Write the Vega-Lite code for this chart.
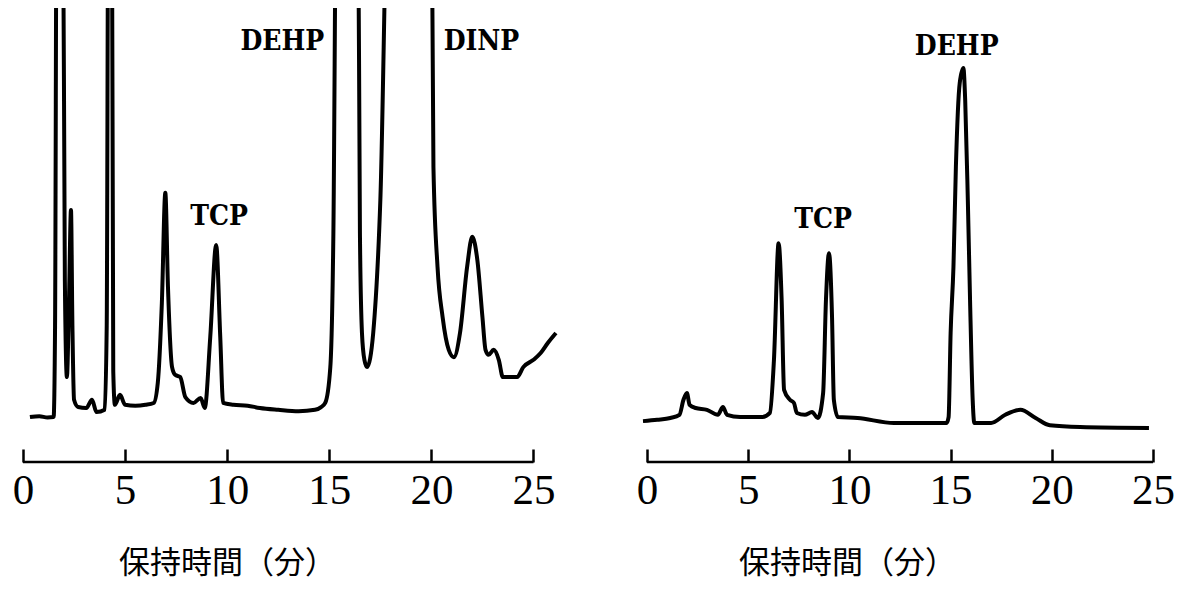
{
  "$schema": "https://vega.github.io/schema/vega-lite/v6.json",
  "background": "white",
  "padding": {"left": 12, "top": 8, "right": 5, "bottom": 30},
  "bounds": "flush",
  "spacing": 84,
  "config": {
    "view": {"stroke": null},
    "axis": {
      "domain": false,
      "grid": false,
      "ticks": true,
      "tickColor": "black",
      "tickWidth": 2.5,
      "tickSize": -13,
      "labelFont": "Liberation Serif",
      "labelFontSize": 43,
      "labelColor": "black",
      "labelPadding": 20,
      "labelFlush": false,
      "labelOverlap": false,
      "titleFont": "Noto Sans CJK JP",
      "titleFontSize": 31,
      "titleFontWeight": "normal",
      "titleColor": "black",
      "titleAlign": "center",
      "titleBaseline": "middle",
      "titleY": 101
    }
  },
  "datasets": {
    "left": [
      {"t": 0.34, "v": 9.9}, {"t": 0.8, "v": 10.1}, {"t": 1.2, "v": 9.8}, {"t": 1.5, "v": 9.9},
      {"t": 1.57, "v": 30}, {"t": 1.65, "v": 130}, {"t": 1.95, "v": 130}, {"t": 2.05, "v": 40},
      {"t": 2.15, "v": 18.7}, {"t": 2.25, "v": 35}, {"t": 2.35, "v": 55.5}, {"t": 2.42, "v": 30},
      {"t": 2.5, "v": 13.7}, {"t": 2.7, "v": 12.1}, {"t": 3.1, "v": 11.9}, {"t": 3.38, "v": 13.7},
      {"t": 3.6, "v": 11.0}, {"t": 4.0, "v": 11.5}, {"t": 4.1, "v": 30}, {"t": 4.18, "v": 130},
      {"t": 4.35, "v": 130}, {"t": 4.42, "v": 20}, {"t": 4.5, "v": 12.6}, {"t": 4.75, "v": 14.8},
      {"t": 5.0, "v": 12.6}, {"t": 5.5, "v": 12.4}, {"t": 6.0, "v": 12.6}, {"t": 6.4, "v": 13.0},
      {"t": 6.6, "v": 17.4}, {"t": 6.8, "v": 35.0}, {"t": 6.97, "v": 59.3}, {"t": 7.1, "v": 38.5},
      {"t": 7.3, "v": 20.9}, {"t": 7.45, "v": 19.2}, {"t": 7.7, "v": 18.7}, {"t": 7.95, "v": 14.3},
      {"t": 8.35, "v": 13.0}, {"t": 8.7, "v": 14.1}, {"t": 8.9, "v": 11.9}, {"t": 9.17, "v": 27.5},
      {"t": 9.46, "v": 47.8}, {"t": 9.66, "v": 27.5}, {"t": 9.8, "v": 13.0}, {"t": 10.3, "v": 12.6},
      {"t": 11.0, "v": 12.4}, {"t": 11.6, "v": 11.9}, {"t": 12.5, "v": 11.5}, {"t": 13.5, "v": 11.2},
      {"t": 14.3, "v": 11.5}, {"t": 14.6, "v": 12.1}, {"t": 14.8, "v": 13.0}, {"t": 15.05, "v": 20.9},
      {"t": 15.2, "v": 50.4}, {"t": 15.35, "v": 130}, {"t": 16.4, "v": 130}, {"t": 16.5, "v": 50.4},
      {"t": 16.6, "v": 28.4}, {"t": 16.72, "v": 22.5}, {"t": 16.85, "v": 20.9}, {"t": 17.0, "v": 22.8},
      {"t": 17.15, "v": 28.4}, {"t": 17.5, "v": 57.7},
      {"t": 17.9, "v": 130}, {"t": 20.0, "v": 130}, {"t": 20.1, "v": 65.0}, {"t": 20.3, "v": 43.0},
      {"t": 20.55, "v": 31.9}, {"t": 20.85, "v": 24.7}, {"t": 21.1, "v": 23.1}, {"t": 21.4, "v": 28.4},
      {"t": 21.75, "v": 43.0}, {"t": 22.0, "v": 49.6}, {"t": 22.25, "v": 44.5}, {"t": 22.5, "v": 31.9},
      {"t": 22.65, "v": 24.7}, {"t": 22.8, "v": 23.6}, {"t": 23.05, "v": 24.7}, {"t": 23.3, "v": 22.5},
      {"t": 23.5, "v": 18.7}, {"t": 24.2, "v": 18.7}, {"t": 24.5, "v": 20.9}, {"t": 25.0, "v": 22.5},
      {"t": 25.35, "v": 24.0}, {"t": 25.7, "v": 26.2}, {"t": 26.1, "v": 28.4}
    ],
    "right": [
      {"t": -0.2, "v": 9.0}, {"t": 0.5, "v": 9.3}, {"t": 1.15, "v": 9.7}, {"t": 1.6, "v": 10.4},
      {"t": 1.8, "v": 13.7}, {"t": 1.97, "v": 15.2}, {"t": 2.1, "v": 12.6}, {"t": 2.4, "v": 11.9},
      {"t": 2.96, "v": 11.5}, {"t": 3.5, "v": 10.4}, {"t": 3.75, "v": 12.1}, {"t": 3.95, "v": 10.4},
      {"t": 4.6, "v": 9.9}, {"t": 5.7, "v": 9.9}, {"t": 6.07, "v": 10.8}, {"t": 6.27, "v": 22.5},
      {"t": 6.5, "v": 48.2}, {"t": 6.65, "v": 35.7}, {"t": 6.77, "v": 15.9}, {"t": 7.06, "v": 13.7},
      {"t": 7.26, "v": 13.0}, {"t": 7.4, "v": 10.8}, {"t": 7.8, "v": 10.4}, {"t": 8.15, "v": 11.0},
      {"t": 8.44, "v": 9.7}, {"t": 8.7, "v": 15.2}, {"t": 8.84, "v": 35.7}, {"t": 8.99, "v": 46.0},
      {"t": 9.14, "v": 31.9}, {"t": 9.23, "v": 13.7}, {"t": 9.43, "v": 9.9}, {"t": 10.4, "v": 9.7},
      {"t": 12.2, "v": 8.6}, {"t": 14.8, "v": 8.6}, {"t": 14.9, "v": 9.9}, {"t": 15.0, "v": 28.4},
      {"t": 15.14, "v": 43.0}, {"t": 15.26, "v": 65.0}, {"t": 15.45, "v": 83.5}, {"t": 15.63, "v": 86.8},
      {"t": 15.72, "v": 79.7}, {"t": 15.85, "v": 57.7}, {"t": 15.96, "v": 35.7}, {"t": 16.09, "v": 13.7},
      {"t": 16.17, "v": 8.6}, {"t": 17.0, "v": 8.6}, {"t": 17.7, "v": 10.4}, {"t": 18.45, "v": 11.5},
      {"t": 19.2, "v": 9.7}, {"t": 19.9, "v": 8.1}, {"t": 21.4, "v": 7.7}, {"t": 24.8, "v": 7.5}
    ],
    "axisLine": [{"a": 0, "b": 25}],
    "leftLabels": [
      {"t": 12.7, "v": 92.5, "label": "DEHP"},
      {"t": 22.45, "v": 92.5, "label": "DINP"},
      {"t": 9.6, "v": 54, "label": "TCP"}
    ],
    "rightLabels": [
      {"t": 8.7, "v": 53.3, "label": "TCP"},
      {"t": 15.3, "v": 91.4, "label": "DEHP"}
    ]
  },
  "hconcat": [
    {
      "width": 535,
      "height": 454,
      "layer": [
        {
          "data": {"name": "left"},
          "mark": {"type": "line", "color": "black", "strokeWidth": 4, "clip": true, "strokeJoin": "round", "interpolate": "monotone"},
          "encoding": {
            "x": {"field": "t", "type": "quantitative", "scale": {"domain": [0, 26.2], "nice": false, "zero": false},
                  "axis": {"values": [0, 5, 10, 15, 20, 25], "format": "d", "title": "保持時間（分）", "titleX": 204}},
            "y": {"field": "v", "type": "quantitative", "scale": {"domain": [0, 100], "nice": false}, "axis": null}
          }
        },
        {
          "data": {"name": "axisLine"},
          "mark": {"type": "rule", "color": "black", "strokeWidth": 2.5},
          "encoding": {
            "x": {"field": "a", "type": "quantitative"},
            "x2": {"field": "b"},
            "y": {"datum": 0, "type": "quantitative"}
          }
        },
        {
          "data": {"name": "leftLabels"},
          "mark": {"type": "text", "font": "DejaVu Serif Condensed, Liberation Serif", "fontWeight": "bold", "fontSize": 28, "color": "black", "align": "center", "baseline": "middle"},
          "encoding": {
            "x": {"field": "t", "type": "quantitative"},
            "y": {"field": "v", "type": "quantitative"},
            "text": {"field": "label"}
          }
        }
      ]
    },
    {
      "width": 511,
      "height": 454,
      "layer": [
        {
          "data": {"name": "right"},
          "mark": {"type": "line", "color": "black", "strokeWidth": 4, "clip": true, "strokeJoin": "round", "interpolate": "monotone"},
          "encoding": {
            "x": {"field": "t", "type": "quantitative", "scale": {"domain": [-0.25, 25], "nice": false, "zero": false},
                  "axis": {"values": [0, 5, 10, 15, 20, 25], "format": "d", "title": "保持時間（分）", "titleX": 205}},
            "y": {"field": "v", "type": "quantitative", "scale": {"domain": [0, 100], "nice": false}, "axis": null}
          }
        },
        {
          "data": {"name": "axisLine"},
          "mark": {"type": "rule", "color": "black", "strokeWidth": 2.5},
          "encoding": {
            "x": {"field": "a", "type": "quantitative"},
            "x2": {"field": "b"},
            "y": {"datum": 0, "type": "quantitative"}
          }
        },
        {
          "data": {"name": "rightLabels"},
          "mark": {"type": "text", "font": "DejaVu Serif Condensed, Liberation Serif", "fontWeight": "bold", "fontSize": 28, "color": "black", "align": "center", "baseline": "middle"},
          "encoding": {
            "x": {"field": "t", "type": "quantitative"},
            "y": {"field": "v", "type": "quantitative"},
            "text": {"field": "label"}
          }
        }
      ]
    }
  ]
}
